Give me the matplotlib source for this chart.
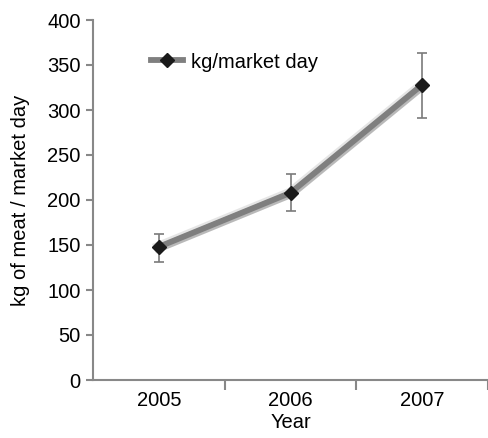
import matplotlib
matplotlib.use("Agg")
import matplotlib.pyplot as plt
import matplotlib.patheffects as pe
from matplotlib.lines import Line2D

years = ["2005", "2006", "2007"]
kg_per_day = [148, 208, 328]
err_low = [131, 188, 291]
err_high = [162, 229, 363]

plt.rcParams["font.family"] = ["Liberation Sans", "DejaVu Sans"]

LINE_COLOR = "#7f7f7f"
MARKER_COLOR = "#1a1a1a"
# soft halo + slight drop shadow, like the blurred line in the original
shadow = [
    pe.Stroke(linewidth=7.5, foreground="#999999", alpha=0.25),
    pe.SimpleLineShadow(offset=(0.8, -0.8), shadow_color="#555555",
                        alpha=0.3, linewidth=5.5),
    pe.Normal(),
]

fig = plt.figure(figsize=(4.88, 4.38), dpi=100)
ax = fig.add_axes([93 / 488, 1 - 380 / 438, 1 - 93 / 488, 360 / 438])

x = list(range(len(years)))
yerr = [[v - lo for v, lo in zip(kg_per_day, err_low)],
        [hi - v for v, hi in zip(kg_per_day, err_high)]]

ax.errorbar(x, kg_per_day, yerr=yerr, fmt="none", ecolor="#7a7a7a",
            elinewidth=1.2, capsize=3.6, capthick=1.2, zorder=2)

line, = ax.plot(x, kg_per_day, color=LINE_COLOR, linewidth=4.2, zorder=3)
line.set_path_effects(shadow)
ax.plot(x, kg_per_day, linestyle="none", marker="D", markersize=7,
        markerfacecolor=MARKER_COLOR, markeredgecolor=MARKER_COLOR, zorder=4)

ax.set_xlim(-0.5, 2.5)
ax.set_ylim(0, 400)
ax.set_yticks(range(0, 401, 50))

# category boundary ticks, labels centred between them
ax.set_xticks([0.5, 1.5, 2.5])
ax.set_xticklabels([])
ax.set_xticks(x, minor=True)
ax.set_xticklabels(years, minor=True)
ax.tick_params(axis="x", which="minor", length=0, pad=8, labelsize=14.5)
ax.tick_params(axis="x", which="major", length=7, width=1.5, color="#888888")
ax.tick_params(axis="y", length=5, width=1.5, color="#888888", labelsize=14.5,
               pad=4)

for side in ["top", "right"]:
    ax.spines[side].set_visible(False)
for side in ["left", "bottom"]:
    ax.spines[side].set_color("#888888")
    ax.spines[side].set_linewidth(1.5)

ax.set_xlabel("Year", fontsize=14.5, labelpad=2)
ax.set_ylabel("kg of meat / market day", fontsize=14.5, labelpad=12)

handle = Line2D([], [], color=LINE_COLOR, linewidth=4.2, marker="D",
                markersize=7, markerfacecolor=MARKER_COLOR,
                markeredgecolor=MARKER_COLOR)
ax.legend([handle], ["kg/market day"], loc="upper left",
          bbox_to_anchor=(0.10, 0.96), frameon=False, fontsize=14.5,
          handlelength=1.6, handletextpad=0.4)

fig.savefig("out.png", dpi=100)
